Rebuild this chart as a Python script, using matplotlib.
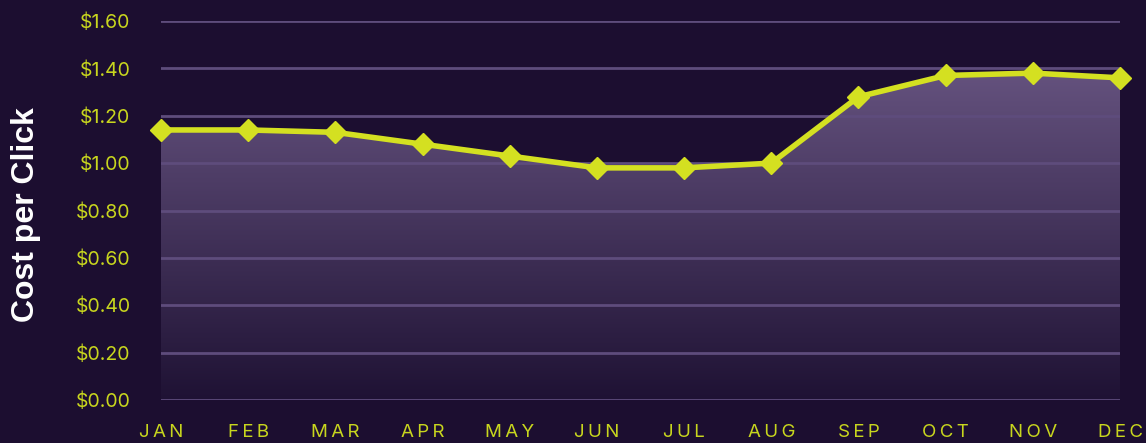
import numpy as np
import matplotlib
matplotlib.use("Agg")
import matplotlib.pyplot as plt
from matplotlib.colors import LinearSegmentedColormap

# Datos
months = ["JAN", "FEB", "MAR", "APR", "MAY", "JUN", "JUL", "AUG", "SEP", "OCT", "NOV", "DEC"]
cpc = [1.14, 1.14, 1.13, 1.08, 1.03, 0.98, 0.98, 1.00, 1.28, 1.37, 1.38, 1.36]
y_ticks = [0.0, 0.2, 0.4, 0.6, 0.8, 1.0, 1.2, 1.4, 1.6]

bg = "#1c0e30"
line_col = "#d4e021"
grid_col = "#5e4c7c"
tick_col = "#c8d61e"

plt.rcParams["font.family"] = ["Inter", "DejaVu Sans"]

fig = plt.figure(figsize=(11.46, 4.43), dpi=100, facecolor=bg)
ax = fig.add_axes([161 / 1146, 1 - 400 / 443, (1120 - 161) / 1146, (400 - 21) / 443])
ax.set_facecolor(bg)

x = np.arange(len(months))

# Relleno con degradado
cmap = LinearSegmentedColormap.from_list("fill", ["#1f1234", "#6a5784"])
grad = np.linspace(0, 1, 256).reshape(-1, 1)
poly = ax.fill_between(x, cpc, 0, color="none", lw=0)
img = ax.imshow(grad, extent=[0, 11, 0, 1.5], origin="lower", cmap=cmap,
                aspect="auto", zorder=1)
img.set_clip_path(poly.get_paths()[0], transform=ax.transData)

# Rejilla
for t in y_ticks:
    ax.axhline(t, color=grid_col, lw=2, zorder=2)

ax.plot(x, cpc, color=line_col, lw=4, marker="D", markersize=11,
        zorder=5, clip_on=False)

ax.set_xlim(0, 11)
ax.set_ylim(0, 1.6)
ax.set_yticks(y_ticks)
ax.set_yticklabels([f"${t:.2f}" for t in y_ticks])
ax.set_xticks(x)
# letras espaciadas
ax.set_xticklabels(["\u2009".join(m) for m in months])
ax.tick_params(axis="y", length=0, pad=22, labelsize=14, labelcolor=tick_col)
ax.tick_params(axis="x", length=0, pad=17, labelsize=13.5, labelcolor=tick_col)
for s in ax.spines.values():
    s.set_visible(False)

fig.text(26 / 1146, 1 - 215 / 443, "Cost per Click", rotation=90, color="white",
         fontsize=23, fontweight="bold", ha="center", va="center",
         family=["Liberation Sans", "DejaVu Sans"])

fig.savefig("out.png", dpi=100, facecolor=bg)
